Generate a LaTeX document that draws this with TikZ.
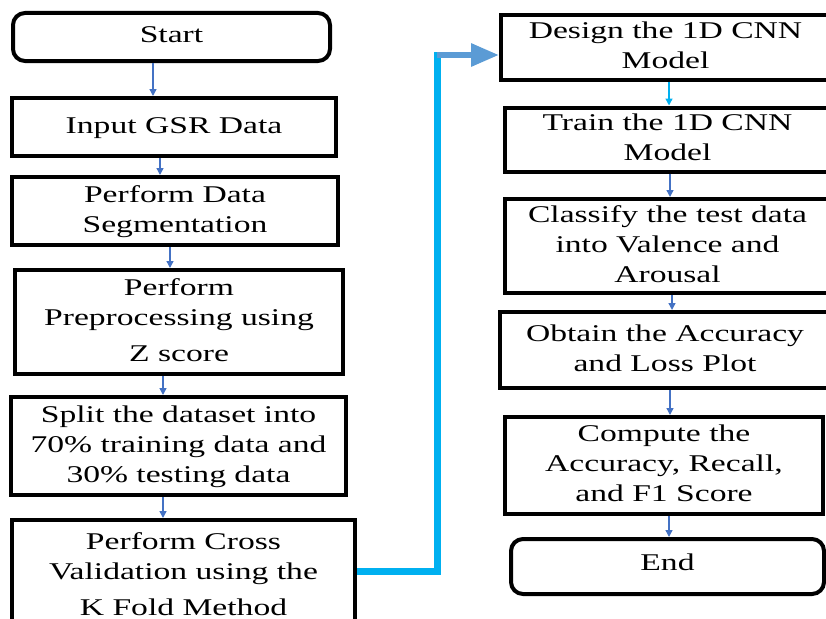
\documentclass[tikz,border=0pt]{standalone}
\usepackage{fontspec}
\setmainfont{Liberation Serif}
\usepackage{graphicx}
\usepackage{xcolor}
\usepackage{tikz}
\usetikzlibrary{arrows.meta, positioning, calc}
\definecolor{flowBlue}{RGB}{68, 114, 196}
\definecolor{linkCyan}{RGB}{0, 176, 240}
\definecolor{linkSteel}{RGB}{91, 155, 213}
% the text of the scan is set wide
\newcommand{\wide}[1]{\scalebox{1.4}[1]{\begin{tabular}{@{}c@{}}#1\end{tabular}}}
\tikzset{
	stepbox/.style={draw=black, line width=4pt, rectangle, align=center,
		font=\fontsize{24}{30}\selectfont, inner ysep=2pt},
	termbox/.style={stepbox, rounded corners=12pt},
	flow/.style={flowBlue, line width=1.4pt, -{Triangle[length=7pt, width=7pt]}},
	link/.style={linkCyan, line width=7pt},
	linkhead/.style={linkSteel, line width=6pt, -{Triangle[length=28pt, width=22pt]}}
}

\begin{document}
\begin{tikzpicture}[x=1pt, y=-1pt]
	\useasboundingbox (0,0) rectangle (826,618);
	% left column
	\node[termbox, minimum width=317pt, minimum height=48pt] (start) at (171.5,37) {\wide{Start}};
	\node[stepbox, minimum width=324pt, minimum height=58pt] (input) at (174,127) {\wide{Input GSR Data}};
	\node[stepbox, minimum width=326pt, minimum height=68pt] (segment) at (175,211)
	{\wide{Perform Data\\Segmentation}};
	\node[stepbox, minimum width=328pt, minimum height=104pt] (preproc) at (179,322)
	{\wide{Perform\\Preprocessing using\\[6pt]Z score}};
	\node[stepbox, minimum width=335pt, minimum height=98pt] (split) at (178.5,446)
	{\wide{Split the dataset into\\70\% training data and\\30\% testing data}};
	\node[stepbox, minimum width=343pt, minimum height=102pt] (cross) at (183.5,571)
	{\raisebox{-5pt}[\height][\depth]{\wide{Perform Cross\\Validation using the\\[6pt]K Fold Method}}};
	% right column
	\node[stepbox, minimum width=329pt, minimum height=63pt] (design) at (665.5,47.5)
	{\wide{Design the 1D CNN\\Model}};
	\node[stepbox, minimum width=325pt, minimum height=63pt] (train) at (667.5,139.5)
	{\wide{Train the 1D CNN\\Model}};
	\node[stepbox, minimum width=325pt, minimum height=92pt] (classify) at (667.5,246)
	{\wide{Classify the test data\\into Valence and\\Arousal}};
	\node[stepbox, minimum width=330pt, minimum height=76pt] (obtain) at (665,350)
	{\wide{Obtain the Accuracy\\and Loss Plot}};
	\node[stepbox, minimum width=318pt, minimum height=97pt] (compute) at (664,465.5)
	{\wide{Compute the\\Accuracy, Recall,\\and F1 Score}};
	\node[termbox, minimum width=313pt, minimum height=55pt] (end) at (667.5,566.5)
	{\raisebox{12pt}{\wide{End}}};
	% arrows, left
	\draw[flow] ([xshift=-18.5pt]start.south) -- ([xshift=-21pt]input.north);
	\draw[flow] ([xshift=-14pt]input.south) -- ([xshift=-15pt]segment.north);
	\draw[flow] ([xshift=-5pt]segment.south) -- ([xshift=-9pt]preproc.north);
	\draw[flow] ([xshift=-16pt]preproc.south) -- ([xshift=-15.5pt]split.north);
	\draw[flow] ([xshift=-15.5pt]split.south) -- ([xshift=-20.5pt]cross.north);
	% arrows, right
	\draw[flow, linkCyan] ([xshift=3.5pt]design.south) -- ([xshift=1.5pt]train.north);
	\draw[flow] ([xshift=2.5pt]train.south) -- ([xshift=2.5pt]classify.north);
	\draw[flow] ([xshift=4.5pt]classify.south) -- ([xshift=7pt]obtain.north);
	\draw[flow] ([xshift=5pt]obtain.south) -- ([xshift=6pt]compute.north);
	\draw[flow] ([xshift=5pt]compute.south) -- ([xshift=1.5pt]end.north);
	% link between the columns
	\coordinate (bend) at (437,571);
	\coordinate (top) at (437,52);
	\draw[link] (cross.east) -- (bend) -- (top);
	\draw[linkhead] ([yshift=-3pt]top) -- ([yshift=-7.5pt]design.west);
\end{tikzpicture}
\end{document}
